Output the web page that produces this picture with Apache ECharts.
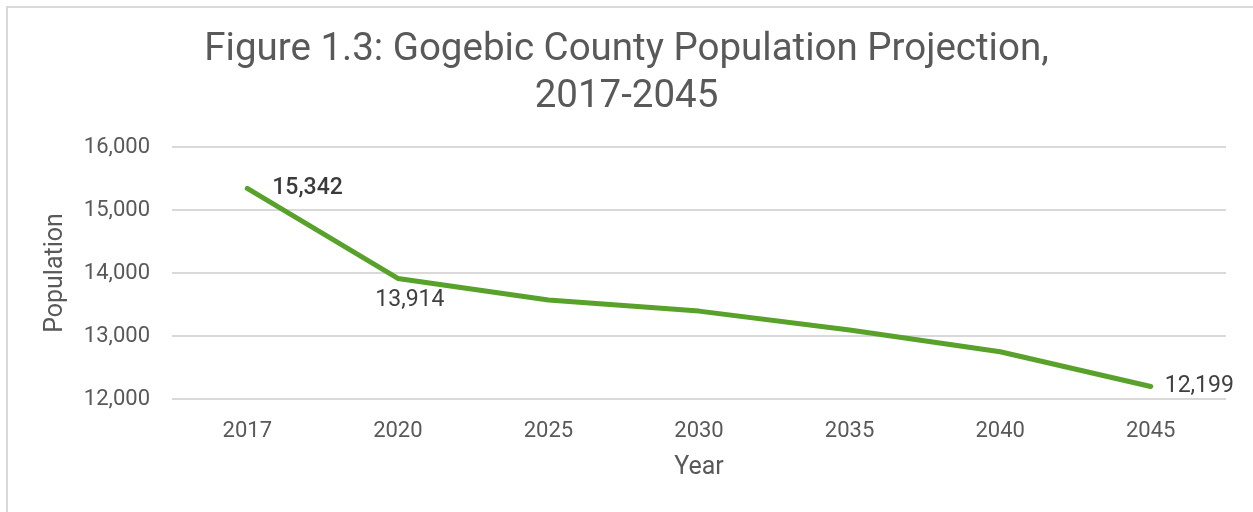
<!DOCTYPE html>
<html>
<head>
<meta charset="utf-8">
<script src="https://cdn.jsdelivr.net/npm/echarts@6/dist/echarts.min.js"></script>
<style>
html,body{margin:0;padding:0;background:#fff;}
#frame{position:absolute;left:6px;top:6px;width:1260px;height:520px;border:2px solid #d9d9d9;box-sizing:border-box;}
#chart{position:absolute;left:0;top:0;width:1253px;height:512px;}
</style>
</head>
<body>
<div id="frame"></div>
<div id="chart"></div>
<script>
const years = ['2017','2020','2025','2030','2035','2040','2045'];
const population = [15342, 13914, 13570, 13395, 13095, 12750, 12199];
const yTicks = [12000, 13000, 14000, 15000, 16000];

const fmt = v => v.toLocaleString('en-US');
const chart = echarts.init(document.getElementById('chart'));
const textColor = '#595959';
const labelCfg = [
  {show: true, position: 'right', distance: 24, fontWeight: 500, color: '#3a3a3a'},
  {show: true, position: 'inside', offset: [12, 22]},
  {show: false}, {show: false}, {show: false}, {show: false},
  {show: true, position: 'right', distance: 13}
];
chart.setOption({
  backgroundColor: 'transparent',
  animation: false,
  title: {
    text: 'Figure 1.3: Gogebic County Population Projection,\n2017-2045',
    left: 'center',
    top: 22,
    textStyle: {
      fontFamily: 'Roboto, sans-serif',
      fontWeight: 'normal',
      fontSize: 38.5,
      lineHeight: 47,
      color: textColor
    }
  },
  grid: {left: 172, right: 27, top: 147, bottom: 113, outerBoundsMode: 'none'},
  xAxis: {
    type: 'category',
    data: years,
    boundaryGap: true,
    name: 'Year',
    nameLocation: 'middle',
    nameGap: 56,
    nameTextStyle: {fontFamily: 'Roboto, sans-serif', fontSize: 25, color: textColor},
    axisLine: {show: false},
    axisTick: {show: false},
    axisLabel: {fontFamily: 'Roboto, sans-serif', fontSize: 22, color: textColor, margin: 21}
  },
  yAxis: {
    type: 'value',
    min: yTicks[0],
    max: yTicks[yTicks.length - 1],
    interval: 1000,
    name: 'Population',
    nameLocation: 'middle',
    nameGap: 104,
    nameTextStyle: {fontFamily: 'Roboto, sans-serif', fontSize: 25, color: textColor},
    axisLine: {show: false},
    axisTick: {show: false},
    splitLine: {lineStyle: {color: '#d9d9d9', width: 2}},
    axisLabel: {fontFamily: 'Roboto, sans-serif', fontSize: 22, color: textColor, margin: 22, formatter: fmt}
  },
  series: [{
    type: 'line',
    data: population.map((v, i) => ({value: v, label: labelCfg[i]})),
    symbol: 'circle',
    symbolSize: 2,
    showSymbol: true,
    itemStyle: {color: 'rgba(0,0,0,0)', borderWidth: 0},
    lineStyle: {color: '#58a12b', width: 5, cap: 'round', join: 'round'},
    label: {
      fontFamily: 'Roboto, sans-serif',
      fontSize: 23,
      color: '#404040',
      formatter: p => fmt(p.value)
    }
  }]
});
</script>
</body>
</html>
